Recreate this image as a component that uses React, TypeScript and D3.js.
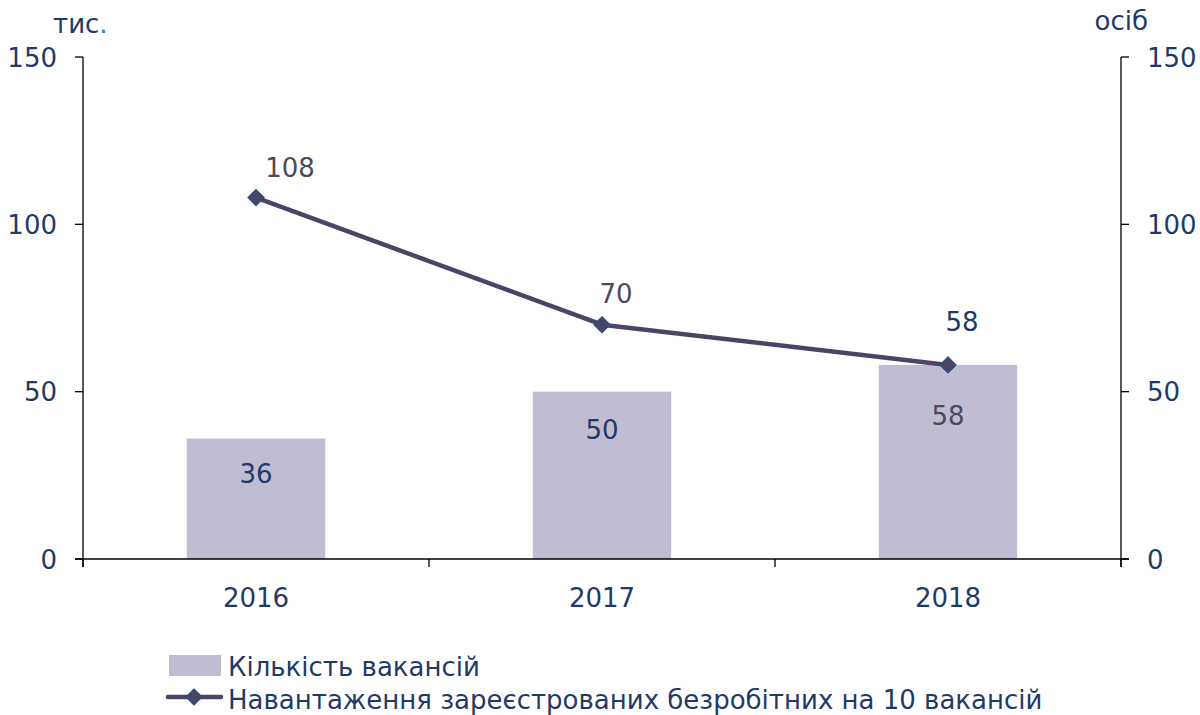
import React from "react";
import * as d3 from "d3";

// data
const years = ["2016", "2017", "2018"];
const vacancies = [36, 50, 58]; // тис.
const loadPer10 = [108, 70, 58]; // осіб
const yTicks = [0, 50, 100, 150];
const seriesNames = ["Кількість вакансій", "Навантаження зареєстрованих безробітних на 10 вакансій"];

// label nudges (layout only)
const lineLabelDx = [34, 14, 14];
const lineLabelDy = [-21, -22, -34];
const barLabelDy = [44, 47, 60];
const barLabelColor = ["#1f3a68", "#1f3a68", "#4d4a60"];
const lineLabelColor = ["#4d4a60", "#4d4a60", "#1f3a68"];

const W = 1200, H = 715;
const left = 83, right = 1121, top = 57, bottom = 559;
const navy = "#1f3a68";
const barFill = "#c0bdd3";
const lineCol = "#4a4566";
const font = "'DejaVu Sans', Verdana, sans-serif";
const fs = 26;

function Diamond({ x, y, r }: { x: number; y: number; r: number }) {
  return (
    <path
      d={`M${x},${y - r}L${x + r},${y}L${x},${y + r}L${x - r},${y}Z`}
      fill={lineCol}
      stroke="#25507f"
      strokeWidth={1.2}
    />
  );
}

export default function App() {
  const x = d3.scaleBand().domain(years).range([left, right]).padding(0);
  const yL = d3.scaleLinear().domain([0, 150]).range([bottom, top]);
  const yR = d3.scaleLinear().domain([0, 150]).range([bottom, top]);
  const bw = x.bandwidth() * 0.4;
  const cx = (d: string) => (x(d) as number) + x.bandwidth() / 2;

  const line = d3
    .line<number>()
    .x((_, i) => cx(years[i]))
    .y((d) => yR(d));

  const boundaries = years.map((d) => x(d) as number).concat([right]);

  return (
    <svg width={W} height={H} style={{ position: "absolute", left: 0, top: 0 }} fontFamily={font}>
      <rect width={W} height={H} fill="#fff" />

      {/* bars */}
      {years.map((d, i) => (
        <rect
          key={d}
          x={cx(d) - bw / 2}
          y={yL(vacancies[i])}
          width={bw}
          height={bottom - yL(vacancies[i])}
          fill={barFill}
        />
      ))}
      {years.map((d, i) => (
        <text
          key={"bl" + d}
          x={cx(d)}
          y={yL(vacancies[i]) + barLabelDy[i]}
          textAnchor="middle"
          fontSize={fs}
          fill={barLabelColor[i]}
        >
          {vacancies[i]}
        </text>
      ))}

      {/* axes */}
      <line x1={left} x2={left} y1={top} y2={bottom + 8} stroke="#000" strokeWidth={1.3} />
      <line x1={right} x2={right} y1={top} y2={bottom + 8} stroke="#000" strokeWidth={1.3} />
      <line x1={left - 8} x2={right + 8} y1={bottom} y2={bottom} stroke="#000" strokeWidth={1.3} />
      {yTicks.map((t) => (
        <g key={"t" + t}>
          <line x1={left - 8} x2={left} y1={yL(t)} y2={yL(t)} stroke="#000" strokeWidth={1.3} />
          <line x1={right} x2={right + 8} y1={yR(t)} y2={yR(t)} stroke="#000" strokeWidth={1.3} />
          <text x={57} y={yL(t) + 9.5} textAnchor="end" fontSize={fs} fill={navy}>
            {t}
          </text>
          <text x={1147} y={yR(t) + 9.5} textAnchor="start" fontSize={fs} fill={navy}>
            {t}
          </text>
        </g>
      ))}
      {boundaries.map((b, i) => (
        <line key={"xb" + i} x1={b} x2={b} y1={bottom} y2={bottom + 8} stroke="#000" strokeWidth={1.3} />
      ))}
      {years.map((d) => (
        <text key={"xl" + d} x={cx(d)} y={607} textAnchor="middle" fontSize={fs} fill={navy}>
          {d}
        </text>
      ))}

      {/* units */}
      <text x={53} y={33} fontSize={fs} fill={navy}>
        тис<tspan fill="#2a7fd4">.</tspan>
      </text>
      <text x={1148} y={30} textAnchor="end" fontSize={fs} fill={navy}>
        осіб
      </text>

      {/* line */}
      <path d={line(loadPer10) || ""} fill="none" stroke={lineCol} strokeWidth={4.5} strokeLinejoin="round" />
      {years.map((d, i) => (
        <Diamond key={"dm" + d} x={cx(d)} y={yR(loadPer10[i])} r={8} />
      ))}
      {years.map((d, i) => (
        <text
          key={"ll" + d}
          x={cx(d) + lineLabelDx[i]}
          y={yR(loadPer10[i]) + lineLabelDy[i]}
          textAnchor="middle"
          fontSize={fs}
          fill={lineLabelColor[i]}
        >
          {loadPer10[i]}
        </text>
      ))}

      {/* legend */}
      <rect x={169} y={655} width={52} height={21} fill={barFill} />
      <text x={228} y={676} fontSize={fs} fill={navy}>
        {seriesNames[0]}
      </text>
      <line x1={168} x2={221} y1={697} y2={697} stroke={lineCol} strokeWidth={4.5} strokeLinecap="round" />
      <Diamond x={194} y={697} r={8} />
      <text x={228} y={709} fontSize={fs} fill={navy}>
        {seriesNames[1]}
      </text>
    </svg>
  );
}
